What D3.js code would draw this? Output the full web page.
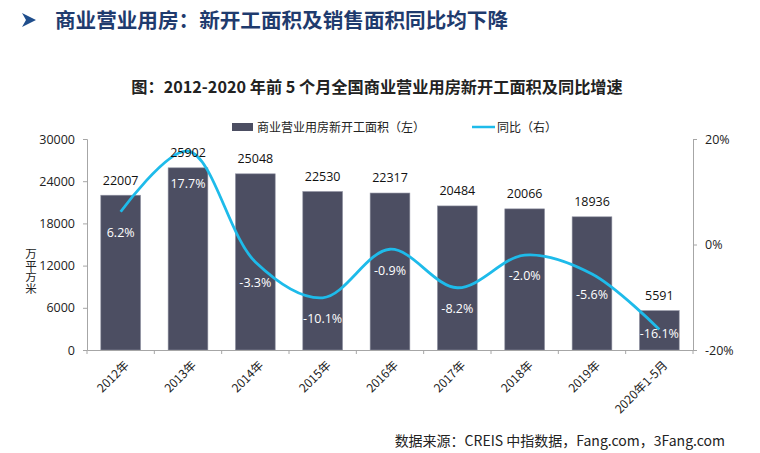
<!DOCTYPE html>
<html><head><meta charset="utf-8">
<script src="https://cdn.jsdelivr.net/npm/d3@7"></script>
<style>
body{margin:0;background:#fff;}
text{font-family:"Open Sans","Noto Sans CJK SC",sans-serif;}
.cjk{font-family:"Noto Sans CJK SC","Open Sans",sans-serif;}
.vt{writing-mode:vertical-rl;text-orientation:upright;}
</style></head>
<body><svg id="c" width="760" height="453"></svg>
<script>
const categories=["2012年","2013年","2014年","2015年","2016年","2017年","2018年","2019年","2020年1-5月"];
const areaValues=[22007,25902,25048,22530,22317,20484,20066,18936,5591];
const yoyValues=[6.2,17.7,-3.3,-10.1,-0.9,-8.2,-2.0,-5.6,-16.1];
const leftTicks=[0,6000,12000,18000,24000,30000];
const rightTicks=[-20,0,20];

const svg=d3.select("#c");
const m={l:87,r:693,t:139,b:350};
const x=d3.scaleBand().domain(categories).range([m.l,m.r]).paddingInner(0.41).paddingOuter(0.205);
const xStep=d3.scalePoint().domain(categories).range([m.l,m.r]).padding(0.5);
const yL=d3.scaleLinear().domain([0,30000]).range([m.b,m.t]);
const yR=d3.scaleLinear().domain([-20,20]).range([m.b,m.t]);
const axisColor="#A6A6A6";

// header
svg.append("path").attr("d","M22,13 L36,20 L22,27 L26,20 Z").attr("fill","#1F4E8C");
svg.append("text").attr("class","cjk").attr("x",55).attr("y",28).attr("font-size",20.6).attr("font-weight","bold").attr("fill","#1F3B6E").text("商业营业用房：新开工面积及销售面积同比均下降");
svg.append("text").attr("class","cjk").attr("x",377).attr("y",93).attr("text-anchor","middle").attr("font-size",16.2).attr("font-weight","bold").attr("fill","#222").text("图：2012-2020 年前 5 个月全国商业营业用房新开工面积及同比增速");

// legend
svg.append("rect").attr("x",232).attr("y",123).attr("width",21).attr("height",8).attr("fill","#4C4E62");
svg.append("text").attr("class","cjk").attr("x",257).attr("y",131.5).attr("font-size",12).attr("fill","#222").text("商业营业用房新开工面积（左）");
svg.append("line").attr("x1",472).attr("x2",495).attr("y1",127).attr("y2",127).attr("stroke","#1EBBEA").attr("stroke-width",2.5);
svg.append("text").attr("class","cjk").attr("x",497).attr("y",131.5).attr("font-size",12).attr("fill","#222").text("同比（右）");

// bars
svg.append("g").selectAll("rect").data(areaValues).join("rect")
 .attr("x",(d,i)=>x(categories[i])).attr("width",x.bandwidth())
 .attr("y",d=>yL(d)).attr("height",d=>m.b-yL(d))
 .attr("fill","#4C4E62").attr("stroke","#8E90A0").attr("stroke-width",0.6);

// axes
const gL=svg.append("g").attr("transform",`translate(${m.l},0)`).call(d3.axisLeft(yL).tickValues(leftTicks).tickSize(4).tickPadding(8).tickFormat(d3.format("d")));
const gR=svg.append("g").attr("transform",`translate(${m.r},0)`).call(d3.axisRight(yR).tickValues(rightTicks).tickSize(4).tickPadding(8).tickFormat(d=>d+"%"));
const gX=svg.append("g").attr("transform",`translate(0,${m.b})`).call(d3.axisBottom(xStep).tickSize(0).tickFormat(""));
[gL,gR].forEach(g=>{g.select(".domain").attr("stroke",axisColor);g.selectAll(".tick line").attr("stroke",axisColor);g.selectAll(".tick text").attr("font-size",12.5).attr("fill","#222");});
gX.select(".domain").attr("stroke",axisColor);
// x tick marks at band boundaries
svg.append("g").selectAll("line").data(d3.range(categories.length+1)).join("line")
 .attr("x1",i=>m.l+i*xStep.step()).attr("x2",i=>m.l+i*xStep.step())
 .attr("y1",m.b).attr("y2",m.b+4).attr("stroke",axisColor);
// x labels
svg.append("g").selectAll("text").data(categories).join("text").attr("class","cjk")
 .attr("transform",d=>`translate(${xStep(d)+6},${m.b+13}) rotate(-45)`)
 .attr("text-anchor","end").attr("dy","0.35em").attr("font-size",12).attr("fill","#222").text(d=>d);

// y title (vertical, upright characters)
svg.append("text").attr("class","cjk vt").attr("x",31).attr("y",248).attr("font-size",11.5).attr("fill","#222").text("万平方米");

// line
const pts=yoyValues.map((v,i)=>[xStep(categories[i]),yR(v)]);
svg.append("path").attr("d",d3.line().curve(d3.curveCatmullRom.alpha(0.5))(pts))
 .attr("fill","none").attr("stroke","#1EBBEA").attr("stroke-width",2.8);

// value labels
svg.append("g").selectAll("text").data(areaValues).join("text")
 .attr("x",(d,i)=>xStep(categories[i])).attr("y",d=>yL(d)-15).attr("dy","0.35em")
 .attr("text-anchor","middle").attr("font-size",12.5).attr("fill","#111").text(d=>d);
svg.append("g").selectAll("text").data(yoyValues).join("text")
 .attr("x",(d,i)=>xStep(categories[i]))
 .attr("y",(d,i)=>Math.min(Math.max(yR(d)+21,yL(areaValues[i])+16),m.b-16)).attr("dy","0.35em")
 .attr("text-anchor","middle").attr("font-size",12.5).attr("fill","#fff").text(d=>d.toFixed(1)+"%");

// source
svg.append("text").attr("class","cjk").attr("x",725).attr("y",446).attr("text-anchor","end").attr("font-size",14).attr("fill","#222").text("数据来源：CREIS 中指数据，Fang.com，3Fang.com");
</script></body></html>
